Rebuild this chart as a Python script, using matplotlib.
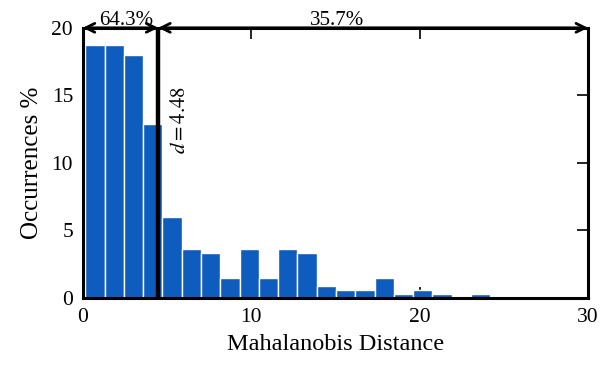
import matplotlib
matplotlib.use('Agg')
import matplotlib.pyplot as plt

# histogram of Mahalanobis distances, percent of occurrences per bin
bin_start = 0.15
bin_width = 1.145
occurrences = [18.7, 18.7, 18.0, 12.9, 6.0, 3.6, 3.3, 1.5, 3.6, 1.5, 3.6, 3.3,
               0.9, 0.6, 0.6, 1.5, 0.3, 0.6, 0.3, 0.0, 0.3]
threshold = 4.48

plt.rcParams['font.family'] = ['Liberation Serif', 'DejaVu Serif']
plt.rcParams['mathtext.fontset'] = 'stix'

fig = plt.figure(figsize=(6, 3.66), dpi=100)
ax = fig.add_axes([0.138, 0.186, 0.842, 0.738])

lefts = [bin_start + i * bin_width for i in range(len(occurrences))]
ax.bar(lefts, occurrences, width=bin_width, align='edge', color='#0f5cbf',
       edgecolor='white', linewidth=1.0, zorder=2)

ax.axvline(threshold, color='black', linewidth=3.2, zorder=3)

arrow = dict(arrowstyle='<->', color='black', lw=2, mutation_scale=16,
             shrinkA=0, shrinkB=0)
ax.annotate('', xy=(0, 20), xytext=(threshold, 20), arrowprops=arrow,
            annotation_clip=False, zorder=4)
ax.annotate('', xy=(threshold, 20), xytext=(30, 20), arrowprops=arrow,
            annotation_clip=False, zorder=4)
ax.text(2.55, 19.85, '64.3%', ha='center', va='bottom', fontsize=15)
ax.text(15.1, 19.85, '35.7%', ha='center', va='bottom', fontsize=15)
ax.text(5.8, 13.2, r'$d=4.48$', rotation=90, ha='center', va='center', fontsize=15)

ax.set_xlim(0, 30)
ax.set_ylim(0, 20)
ax.set_xticks([0, 10, 20, 30])
ax.set_yticks([0, 5, 10, 15, 20])
ax.tick_params(direction='in', length=8, width=1.2, top=True, right=True,
               labelsize=15.5, pad=7)
for s in ax.spines.values():
    s.set_linewidth(2.2)
ax.set_xlabel('Mahalanobis Distance', fontsize=17.5, labelpad=5)
ax.set_ylabel('Occurrences %', fontsize=18, labelpad=6)

fig.savefig('out.png', dpi=100)
